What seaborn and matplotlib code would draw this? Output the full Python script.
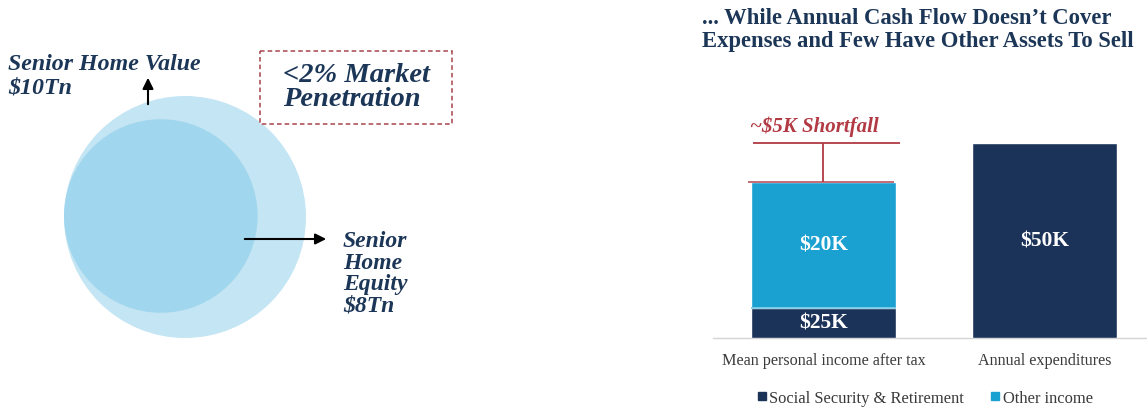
import matplotlib
matplotlib.use("Agg")
import matplotlib.pyplot as plt
import seaborn as sns
import pandas as pd
from matplotlib.patches import Circle, Rectangle, FancyArrowPatch
from matplotlib.lines import Line2D

# ---------------- data ----------------
circle_labels = ["Senior Home Value", "Senior Home Equity"]
circle_values = [10, 8]            # $Tn
categories = ["Mean personal income after tax", "Annual expenditures"]
# bar segment heights as drawn in the picture (relative units, expenditures = 50)
ss_heights = [7.7, 50.0]           # Social Security & Retirement / expenditures
other_heights = [32.3, 0.0]        # Other income
bar_labels_bottom = ["$25K", "$50K"]
bar_labels_top = ["$20K", ""]
shortfall_label = "~$5K Shortfall"
legend_labels = ["Social Security & Retirement", "Other income"]

NAVY = "#1b3358"
LIGHT = "#1aa0d1"
RED = "#b23a44"
TXT = "#1c3657"

sns.set_theme(style="white")
plt.rcParams["font.family"] = ["Liberation Serif", "DejaVu Serif"]

W, H = 1147, 410
fig = plt.figure(figsize=(W / 100, H / 100), dpi=100)

# overlay axes in pixel coordinates
ov = fig.add_axes([0, 0, 1, 1])
ov.set_xlim(0, W)
ov.set_ylim(H, 0)
ov.axis("off")

# ---------------- left: circles ----------------
px_per_tn = 12.1
r_out = circle_values[0] * px_per_tn
r_in = circle_values[1] * px_per_tn
cx_out, cy = 185, 218
left_edge = cx_out - r_out
ov.add_patch(Circle((cx_out, cy), r_out, facecolor="#c4e5f3", edgecolor="none", zorder=1))
ov.add_patch(Circle((left_edge + r_in, cy - 1), r_in, facecolor="#a1d7ee", edgecolor="none", zorder=2))

bi = dict(fontweight="bold", fontstyle="italic", color=TXT)
ov.text(8, 65, "Senior Home Value", fontsize=17.2, va="center", ha="left", **bi)
ov.text(8, 88, "$10Tn", fontsize=17.2, va="center", ha="left", **bi)
ov.add_patch(FancyArrowPatch((148, 108), (148, 76), arrowstyle="-|>", mutation_scale=16,
                             color="black", lw=1.5, zorder=5))
ov.add_patch(FancyArrowPatch((242, 240), (329, 240), arrowstyle="-|>", mutation_scale=16,
                             color="black", lw=1.5, zorder=5))
for i, line in enumerate(["Senior", "Home", "Equity", "$8Tn"]):
    ov.text(343, 242 + i * 21.3, line, fontsize=17, va="center", ha="left", **bi)

ov.add_patch(Rectangle((260, 52), 192, 73, facecolor="white", edgecolor="#a8444a",
                       lw=1.1, linestyle=(0, (3, 2)), zorder=3))
ov.text(283, 75, "<2% Market", fontsize=20.5, va="center", ha="left", zorder=4, **bi)
ov.text(283, 100, "Penetration", fontsize=20.5, va="center", ha="left", zorder=4, **bi)

# ---------------- right: title ----------------
ov.text(702, 18, "... While Annual Cash Flow Doesn\u2019t Cover", fontsize=16.3, fontweight="bold",
        color=TXT, va="center", ha="left")
ov.text(702, 41, "Expenses and Few Have Other Assets To Sell", fontsize=16.3, fontweight="bold",
        color=TXT, va="center", ha="left")

# ---------------- right: bars ----------------
ax = fig.add_axes([713 / W, (H - 339) / H, (W - 713) / W, 234 / H])
totals = [s + o for s, o in zip(ss_heights, other_heights)]
df_tot = pd.DataFrame({"cat": categories, "val": totals})
df_ss = pd.DataFrame({"cat": categories, "val": ss_heights})
bw = 0.656
sns.barplot(data=df_tot, x="cat", y="val", order=categories, color=LIGHT, width=bw,
            saturation=1, ax=ax, zorder=2)
sns.barplot(data=df_ss, x="cat", y="val", order=categories, color=NAVY, width=bw,
            saturation=1, ax=ax, zorder=3)
ax.set_xlim(-0.5, 1.464)
ax.set_ylim(0, 60)
ax.set_xlabel("")
ax.set_ylabel("")
ax.set_yticks([])
ax.tick_params(axis="x", length=0, pad=10, labelsize=11.6, labelcolor="#3a3a3a")
for s in ["top", "left", "right"]:
    ax.spines[s].set_visible(False)
ax.spines["bottom"].set_color("#d4d4d4")
ax.spines["bottom"].set_linewidth(1)

# segment separator
ax.hlines(ss_heights[0], -bw / 2, bw / 2, color="#7fcbe9", lw=1.3, zorder=4)

# labels
for i in range(len(categories)):
    if bar_labels_bottom[i]:
        ax.text(i, ss_heights[i] / 2, bar_labels_bottom[i], ha="center", va="center",
                color="white", fontsize=15.5, fontweight="bold", zorder=5)
    if bar_labels_top[i]:
        ax.text(i, ss_heights[i] + other_heights[i] / 2, bar_labels_top[i], ha="center",
                va="center", color="white", fontsize=15.5, fontweight="bold", zorder=5)

# shortfall bracket
ax.hlines(totals[0], -0.342, 0.319, color="#c0606a", lw=1.3, zorder=6)
ax.hlines(totals[1], -0.319, 0.346, color=RED, lw=1.3, zorder=6)
ax.vlines(0, totals[0], totals[1], color=RED, lw=1.3, zorder=6)
ax.text(-0.04, totals[1] + 4.4, shortfall_label, ha="center", va="center", color=RED,
        fontsize=15, fontweight="bold", fontstyle="italic")

# legend
handles = [Line2D([], [], marker="s", linestyle="none", markersize=6, color=NAVY),
           Line2D([], [], marker="s", linestyle="none", markersize=6, color=LIGHT)]
fig.legend(handles, legend_labels, loc="center left", bbox_to_anchor=(755 / W, 1 - 399 / H),
           ncol=2, frameon=False, fontsize=11.9, handletextpad=0.05, columnspacing=1.5,
           handlelength=0.8, labelcolor="#3a3a3a", borderaxespad=0, borderpad=0)

fig.savefig("out.png", dpi=100)
